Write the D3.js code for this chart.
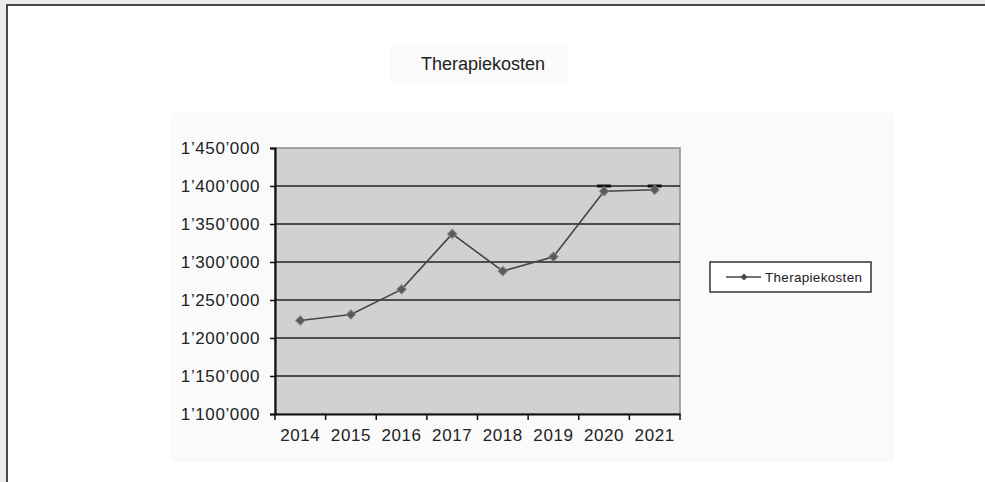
<!DOCTYPE html>
<html>
<head>
<meta charset="utf-8">
<script src="https://cdn.jsdelivr.net/npm/d3@7"></script>
<style>
  html, body { margin: 0; padding: 0; background: #ececec; }
  svg { display: block; font-family: "Liberation Sans", Arial, sans-serif; }
</style>
</head>
<body>
<svg id="chart" width="985" height="482"></svg>
<script>
// Chart data
const years = ["2014", "2015", "2016", "2017", "2018", "2019", "2020", "2021"];
const costs = [1223000, 1231000, 1264000, 1337000, 1288000, 1307000, 1393000, 1395000];
const capYears = ["2020", "2021"];
const capValue = 1400000;
const yTicks = [1100000, 1150000, 1200000, 1250000, 1300000, 1350000, 1400000, 1450000];
const seriesName = "Therapiekosten";

const svg = d3.select("#chart");

// Outer frame
svg.append("rect")
	.attr("x", 7).attr("y", 5)
	.attr("width", 1000).attr("height", 500)
	.attr("fill", "#ffffff")
	.attr("stroke", "#4a4a4a")
	.attr("stroke-width", 2);

// Title box + title
svg.append("rect")
	.attr("x", 390).attr("y", 45).attr("width", 178).attr("height", 39)
	.attr("fill", "#fafafa");
svg.append("text")
	.attr("x", 483).attr("y", 70)
	.attr("text-anchor", "middle")
	.attr("font-size", "18px")
	.attr("fill", "#222")
	.text(seriesName);

// Chart area box
svg.append("rect")
	.attr("x", 171).attr("y", 113).attr("width", 723).attr("height", 349)
	.attr("fill", "#fafafa");

// Plot area
const plot = { left: 275, right: 680, top: 148, bottom: 414 };

const x = d3.scaleBand()
	.domain(years)
	.range([plot.left, plot.right]);

const y = d3.scaleLinear()
	.domain([1100000, 1450000])
	.range([plot.bottom, plot.top]);

svg.append("rect")
	.attr("x", plot.left).attr("y", plot.top)
	.attr("width", plot.right - plot.left).attr("height", plot.bottom - plot.top)
	.attr("fill", "#d0d1d3")
	.attr("stroke", "#8c8c8c")
	.attr("stroke-width", 1.5);

// Gridlines
svg.append("g")
	.selectAll("line")
	.data(yTicks.slice(1, -1))
	.enter()
	.append("line")
	.attr("x1", plot.left).attr("x2", plot.right)
	.attr("y1", (d) => y(d)).attr("y2", (d) => y(d))
	.attr("stroke", "#222")
	.attr("stroke-width", 1.5);

const fmt = (d) => d3.format(",")(d).replace(/,/g, "\u2019");

// Y axis
const yAxis = svg.append("g")
	.attr("transform", `translate(${plot.left},0)`)
	.call(d3.axisLeft(y).tickValues(yTicks).tickFormat(fmt).tickSize(5).tickPadding(10));
yAxis.select(".domain").attr("stroke", "#111").attr("stroke-width", 2.2);
yAxis.selectAll(".tick line").attr("stroke", "#111").attr("stroke-width", 1.5);
yAxis.selectAll("text")
	.attr("font-size", "17px")
	.attr("letter-spacing", "0.6px")
	.attr("fill", "#222")
	.attr("font-family", "Liberation Sans, Arial, sans-serif");

// X axis: ticks on category boundaries
const xAxis = svg.append("g")
	.attr("transform", `translate(0,${plot.bottom})`)
	.call(d3.axisBottom(x).tickSize(0).tickPadding(15));
xAxis.select(".domain").attr("stroke", "#111").attr("stroke-width", 2.2);
xAxis.selectAll("text")
	.attr("font-size", "17px")
	.attr("letter-spacing", "0.6px")
	.attr("fill", "#222")
	.attr("font-family", "Liberation Sans, Arial, sans-serif");
xAxis.selectAll("line.bound")
	.data(years.concat([null]))
	.enter()
	.append("line")
	.attr("class", "bound")
	.attr("x1", (d) => (d === null ? plot.right : x(d)))
	.attr("x2", (d) => (d === null ? plot.right : x(d)))
	.attr("y1", 0).attr("y2", 6)
	.attr("stroke", "#111")
	.attr("stroke-width", 1.5);

const cx = (d) => x(d) + x.bandwidth() / 2;

// Short caps at 2020/2021
svg.append("g")
	.selectAll("line")
	.data(capYears)
	.enter()
	.append("line")
	.attr("x1", (d) => cx(d) - 7).attr("x2", (d) => cx(d) + 7)
	.attr("y1", y(capValue)).attr("y2", y(capValue))
	.attr("stroke", "#111")
	.attr("stroke-width", 3);

// Series line
const line = d3.line()
	.x((d, i) => cx(years[i]))
	.y((d) => y(d));

svg.append("path")
	.datum(costs)
	.attr("d", line)
	.attr("fill", "none")
	.attr("stroke", "#454545")
	.attr("stroke-width", 1.6);

// Diamond markers (rotated squares)
const diamond = d3.symbol().type(d3.symbolSquare).size(46);
svg.append("g")
	.selectAll("path")
	.data(costs)
	.enter()
	.append("path")
	.attr("d", diamond)
	.attr("transform", (d, i) => `translate(${cx(years[i])},${y(d)}) rotate(45)`)
	.attr("fill", "#5a5a5a")
	.attr("stroke", "#8a8a8a")
	.attr("stroke-width", 1.2)
	.attr("stroke-opacity", 0.6);

// Legend
const legend = svg.append("g").attr("transform", "translate(710,262)");
legend.append("rect")
	.attr("width", 161).attr("height", 30)
	.attr("fill", "#ffffff")
	.attr("stroke", "#333")
	.attr("stroke-width", 1.5);
legend.append("line")
	.attr("x1", 16).attr("x2", 51)
	.attr("y1", 15).attr("y2", 15)
	.attr("stroke", "#454545").attr("stroke-width", 1.5);
legend.append("path")
	.attr("d", d3.symbol().type(d3.symbolSquare).size(24))
	.attr("transform", "translate(34,15) rotate(45)")
	.attr("fill", "#4a4a4a");
legend.append("text")
	.attr("x", 55).attr("y", 20)
	.attr("font-size", "13.5px")
	.attr("letter-spacing", "0.3px")
	.attr("fill", "#222")
	.text(seriesName);
</script>
</body>
</html>
